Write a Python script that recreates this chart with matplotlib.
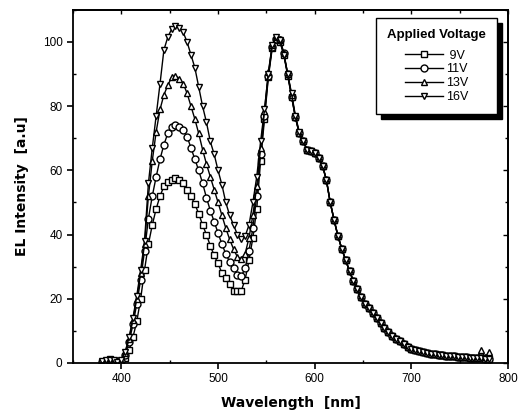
# EL spectra vs applied voltage

import numpy as np
import matplotlib.pyplot as plt
from matplotlib.ticker import MultipleLocator

plt.rcParams['font.family'] = ['Liberation Sans', 'DejaVu Sans']

wavelength = np.arange(380, 781, 4)

el_9v = [0.2, 0.5, 1.2, 0.5, 0.2, 0.3, 1.5, 4.0, 8.0, 13.0,
         20.0, 29.0, 37.0, 43.0, 48.0, 52.0, 55.0, 56.5, 57.0, 57.5,
         57.0, 56.0, 54.0, 52.0, 49.5, 46.5, 43.0, 40.0, 36.5, 33.5,
         31.0, 28.0, 26.5, 24.5, 22.5, 22.3, 22.5, 26.0, 32.0, 39.0,
         48.0, 63.0, 76.0, 89.0, 98.0, 100.5, 100.0, 96.0, 89.5, 83.0,
         76.5, 71.5, 69.0, 66.5, 66.0, 65.5, 64.0, 61.5, 57.0, 50.0,
         44.5, 39.5, 35.5, 32.0, 28.5, 25.5, 23.0, 20.5, 18.5, 17.0,
         15.5, 14.0, 12.5, 11.0, 9.5, 8.5, 7.5, 6.7, 5.8, 5.0,
         4.5, 4.1, 3.8, 3.4, 3.1, 2.9, 2.7, 2.6, 2.5, 2.3,
         2.2, 2.1, 2.0, 1.9, 1.8, 1.7, 1.6, 1.5, 1.4, 1.3,
         1.2]

el_11v = [0.3, 0.6, 1.0, 0.6, 0.3, 0.5, 2.5, 6.5, 12.0, 18.5,
          26.0, 35.0, 45.0, 52.0, 58.0, 63.5, 68.0, 71.5, 73.5, 74.0,
          73.5, 72.5, 70.5, 67.0, 63.5, 60.0, 56.0, 51.5, 47.5, 44.0,
          40.5, 37.0, 34.0, 31.5, 29.5, 27.5, 27.0, 29.5, 35.0, 42.0,
          52.0, 65.0, 77.0, 89.5, 98.5, 101.0, 100.5, 96.5, 90.0, 83.0,
          76.5, 71.5, 69.0, 66.5, 66.0, 65.5, 64.0, 61.5, 57.0, 50.0,
          44.5, 39.5, 35.5, 32.0, 28.5, 25.5, 23.0, 20.5, 18.5, 17.0,
          15.5, 14.0, 12.5, 11.0, 9.5, 8.5, 7.5, 6.7, 5.8, 5.0,
          4.5, 4.1, 3.8, 3.4, 3.1, 2.9, 2.7, 2.6, 2.5, 2.3,
          2.2, 2.1, 2.0, 1.9, 1.8, 1.7, 1.6, 1.5, 1.4, 1.3,
          1.2]

el_13v = [0.3, 0.7, 1.0, 0.7, 0.3, 0.6, 3.0, 7.5, 13.5, 20.0,
          28.0, 37.0, 52.0, 63.0, 72.0, 79.0, 83.5, 86.5, 89.0, 89.5,
          88.5, 87.0, 84.0, 80.0, 76.0, 71.5, 66.5, 62.0, 58.0, 54.0,
          50.0, 46.0, 42.0, 38.5, 35.5, 33.0, 32.5, 34.0, 39.0, 46.0,
          55.0, 67.0, 78.5, 90.5, 99.0, 101.5, 101.0, 96.5, 90.0, 83.5,
          76.5, 71.5, 69.0, 66.5, 66.0, 65.5, 64.0, 61.5, 57.0, 50.0,
          44.5, 39.5, 35.5, 32.0, 28.5, 25.5, 23.0, 20.5, 18.5, 17.0,
          15.5, 14.0, 12.5, 11.0, 9.5, 8.5, 7.5, 6.7, 5.8, 5.0,
          4.5, 4.1, 3.8, 3.4, 3.1, 2.9, 2.7, 2.6, 2.5, 2.3,
          2.2, 2.1, 2.0, 1.9, 1.8, 1.7, 1.6, 1.5, 4.0, 1.8,
          3.3]

el_16v = [0.5, 0.8, 1.0, 0.8, 0.4, 0.8, 3.5, 8.0, 14.0, 21.0,
          29.0, 38.0, 56.0, 67.0, 77.0, 87.0, 97.5, 101.5, 104.0, 105.0,
          104.5, 103.0, 100.0, 96.0, 92.0, 86.0, 80.0, 75.0, 69.0, 65.0,
          60.0, 55.5, 50.0, 46.0, 43.0, 40.0, 38.5, 39.5, 43.0, 50.0,
          58.0, 69.0, 79.0, 90.0, 99.0, 101.5, 100.5, 96.0, 90.0, 84.0,
          77.0, 72.0, 69.0, 66.5, 66.0, 65.5, 64.0, 61.5, 57.0, 50.0,
          44.5, 39.5, 35.5, 32.0, 28.5, 25.5, 23.0, 20.5, 18.5, 17.0,
          15.5, 14.0, 12.5, 11.0, 9.5, 8.5, 7.5, 6.7, 5.8, 5.0,
          4.5, 4.1, 3.8, 3.4, 3.1, 2.9, 2.7, 2.6, 2.5, 2.3,
          2.2, 2.1, 2.0, 1.9, 1.8, 1.7, 1.6, 1.5, 1.4, 1.3,
          1.2]

labels = [' 9V', '11V', '13V', '16V']
markers = ['s', 'o', '^', 'v']

fig = plt.figure(figsize=(5.25, 4.12), dpi=100)
ax = fig.add_axes([0.139, 0.119, 0.829, 0.857])

for y, lab, m in zip([el_9v, el_11v, el_13v, el_16v], labels, markers):
    ax.plot(wavelength, y, color='black', linewidth=1.0, marker=m,
            markersize=5, markerfacecolor='white', markeredgecolor='black',
            markeredgewidth=1.0, label=lab)

ax.set_xlim(350, 800)
ax.set_ylim(0, 110)
ax.xaxis.set_major_locator(MultipleLocator(100))
ax.xaxis.set_minor_locator(MultipleLocator(50))
ax.yaxis.set_major_locator(MultipleLocator(20))
ax.yaxis.set_minor_locator(MultipleLocator(10))

for sp in ax.spines.values():
    sp.set_linewidth(1.3)

ax.tick_params(which='major', direction='out', length=4, width=1.2, labelsize=8.5)
ax.tick_params(which='minor', direction='in', length=2.5, width=1.0)

# inward ticks on the right and top frame
right = ax.secondary_yaxis('right')
right.yaxis.set_major_locator(MultipleLocator(20))
right.yaxis.set_minor_locator(MultipleLocator(10))
right.tick_params(which='both', direction='in', labelright=False, width=1.0)
right.tick_params(which='major', length=3.5)
right.tick_params(which='minor', length=2)
right.spines['right'].set_linewidth(1.3)

top = ax.secondary_xaxis('top')
top.xaxis.set_major_locator(MultipleLocator(100))
top.xaxis.set_minor_locator(MultipleLocator(50))
top.tick_params(which='both', direction='in', labeltop=False, width=1.0)
top.tick_params(which='major', length=3)
top.tick_params(which='minor', length=2)
top.spines['top'].set_linewidth(1.3)

ax.set_xlabel('Wavelength  [nm]', fontsize=10, fontweight='bold',
              family='DejaVu Sans', labelpad=8)
ax.set_ylabel('EL Intensity  [a.u]', fontsize=10, fontweight='bold',
              family='DejaVu Sans', labelpad=10)

leg = ax.legend(title='Applied Voltage', loc='upper right',
                bbox_to_anchor=(0.975, 0.977), borderaxespad=0,
                fontsize=9, title_fontproperties={'weight': 'bold', 'size': 9.5},
                fancybox=False, edgecolor='black', framealpha=1,
                shadow={'color': 'black', 'alpha': 1, 'ox': 3.5, 'oy': -3.5},
                handlelength=3.0, labelspacing=0.15, borderpad=0.9,
                handletextpad=0.25)
leg.get_frame().set_linewidth(1.0)
leg._legend_box.sep = 6

plt.savefig('out.png', dpi=100)
